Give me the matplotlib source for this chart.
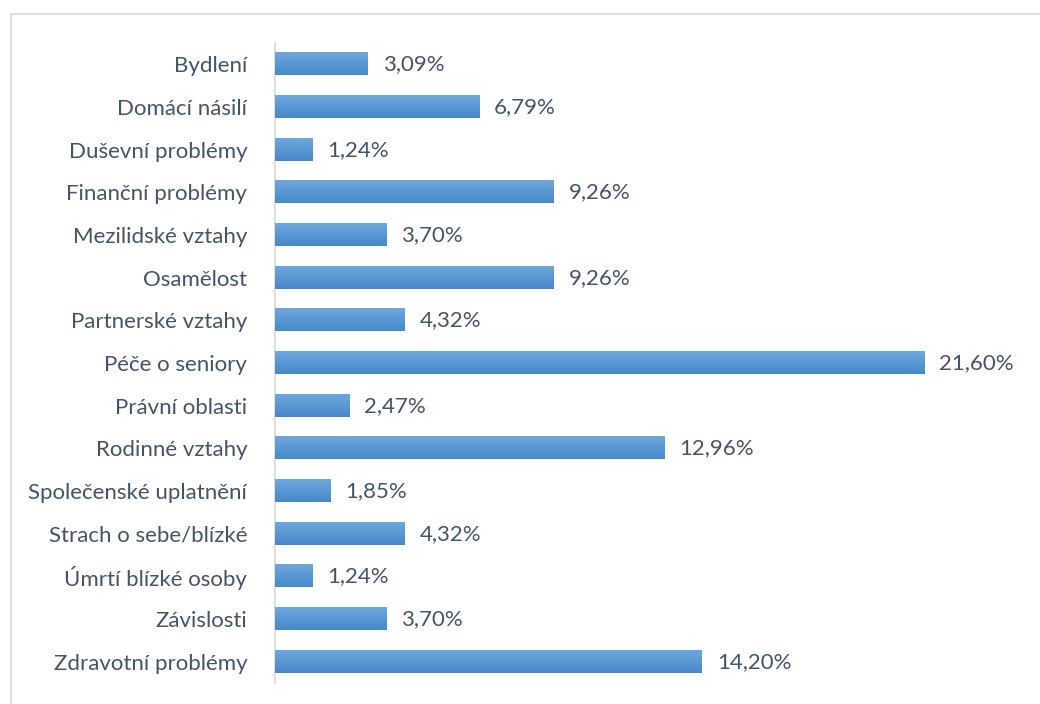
import numpy as np
import matplotlib.pyplot as plt
from matplotlib.patches import Rectangle
from matplotlib.colors import LinearSegmentedColormap

categories = ["Bydlení", "Domácí násilí", "Duševní problémy", "Finanční problémy",
              "Mezilidské vztahy", "Osamělost", "Partnerské vztahy", "Péče o seniory",
              "Právní oblasti", "Rodinné vztahy", "Společenské uplatnění",
              "Strach o sebe/blízké", "Úmrtí blízké osoby", "Závislosti",
              "Zdravotní problémy"]
values = [3.09, 6.79, 1.24, 9.26, 3.70, 9.26, 4.32, 21.60, 2.47, 12.96,
          1.85, 4.32, 1.24, 3.70, 14.20]

plt.rcParams['font.family'] = ['Lato', 'DejaVu Sans']
text_col = "#44546a"
fs = 16

W, H = 1040, 704
fig = plt.figure(figsize=(W / 100, H / 100), dpi=100)
ax = fig.add_axes([275 / W, 1 - 683 / H, 720 / W, 640 / H])

# chart frame (extends past the right/bottom edge like the original crop)
fig.patches.append(Rectangle((11 / W, -0.1), 1.2, 1 - 14 / H + 0.1,
                             transform=fig.transFigure, fill=False,
                             edgecolor="#d9d9d9", lw=1.2))

y = np.arange(len(categories))
bars = ax.barh(y, values, height=0.52, color="#5b9bd5", zorder=2)

# vertical gradient inside each bar: lighter at top, darker at bottom
grad = np.linspace(0, 1, 64).reshape(-1, 1)
cmap = LinearSegmentedColormap.from_list("g", ["#6fa8dd", "#4588cb"])
for b in bars:
    x0, y0 = b.get_x(), b.get_y()
    w, h = b.get_width(), b.get_height()
    ax.imshow(grad, cmap=cmap, aspect="auto", origin="upper",
              extent=[x0, x0 + w, y0 + h, y0], zorder=3)

for yi, v in zip(y, values):
    ax.text(v + 0.5, yi, f"{v:.2f}%".replace(".", ","), va="center", ha="left",
            fontsize=fs, color=text_col)

ax.set_xlim(0, 23.95)
ax.set_ylim(len(categories) - 0.5, -0.5)
ax.set_yticks(y)
ax.set_yticklabels(categories, fontsize=fs, color=text_col)
ax.tick_params(axis="y", length=0, pad=20)
ax.set_xticks([])
for s in ["top", "right", "bottom"]:
    ax.spines[s].set_visible(False)
ax.spines["left"].set_color("#d9d9d9")
ax.spines["left"].set_linewidth(1.2)

fig.savefig("out.png", dpi=100)
